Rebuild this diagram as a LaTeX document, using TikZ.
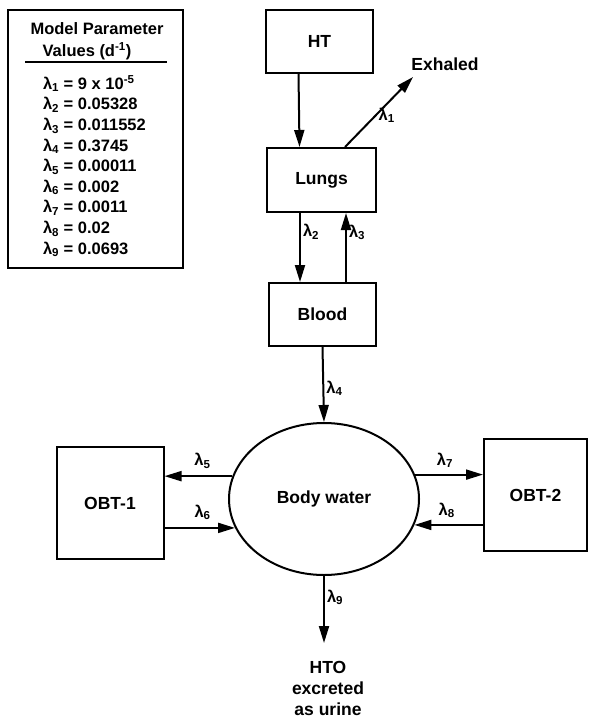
\documentclass[tikz,border=0pt]{standalone}
\usepackage{fontspec}
\setmainfont{Liberation Sans}
\usepackage{tikz}
\usetikzlibrary{positioning,arrows.meta,shapes.geometric}
\newcommand{\lam}[1]{λ\textsubscript{#1}}

\begin{document}
\begin{tikzpicture}[x=1pt,y=-1pt,line width=2pt,
    box/.style={draw,rectangle,inner sep=0pt,font=\fontsize{17.5}{20}\selectfont\bfseries},
    flow/.style={-{Triangle[length=17pt,width=10pt]}},
    rate/.style={font=\fontsize{16.5}{19}\selectfont\bfseries,inner sep=2pt},
    parline/.style={font=\fontsize{16.5}{19}\selectfont\bfseries,inner sep=0pt}]
  \useasboundingbox (0,0) rectangle (593,719);
  \node[draw,minimum width=175pt,minimum height=258pt] (param) at (95.5,139) {};
  \node[parline,anchor=base] (title1) at (97,35) {Model Parameter};
  \node[parline,anchor=base] (title2) at (87,57) {Values (d\textsuperscript{-1})};
  \draw (25,62) -- (167,62);
  \foreach \i/\v [count=\k] in {1/9 x 10\textsuperscript{-5},2/0.05328,3/0.011552,4/0.3745,
      5/0.00011,6/0.002,7/0.0011,8/0.02,9/0.0693}
    \node[parline,anchor=base west] (par\k) at (42,89.4+\k*20.6-20.6) {\lam{\i} = \v};
  \node[box,minimum width=107pt,minimum height=63pt] (HT) at (319.5,41.5) {HT};
  \node[box,minimum width=109pt,minimum height=64pt] (Lungs) at (321.5,180) {Lungs};
  \node[box,minimum width=107pt,minimum height=63pt] (Blood) at (322.5,314.5) {Blood};
  \node[box,ellipse,minimum width=190pt,minimum height=152pt] (water) at (324,499) {Body water};
  \node[box,minimum width=107pt,minimum height=112pt] (obtA) at (110,503) {OBT-1};
  \node[box,minimum width=103pt,minimum height=112pt] (obtB) at (535.5,495) {OBT-2};
  \coordinate (exh) at (413,77);
  \coordinate (urine) at (324,643);
  \node[font=\fontsize{17.5}{20}\selectfont\bfseries] (exhaled) at (445,64) {Exhaled};
  \node[font=\fontsize{17.5}{21}\selectfont\bfseries,align=center] (HTO) at (328,688) {HTO\\excreted\\as urine};
  \draw[flow] ([xshift=-21pt]HT.south) -- ([xshift=-22pt]Lungs.north);
  \draw[flow] ([xshift=23.5pt]Lungs.north) -- node[rate,pos=0.45,right] {\lam{1}} (exh);
  \draw[flow] ([xshift=-21.5pt]Lungs.south) -- node[rate,pos=0.27,right] {\lam{2}} ([xshift=-22.5pt]Blood.north);
  \draw[flow] ([xshift=23.5pt]Blood.north) -- node[rate,pos=0.72,right] {\lam{3}} ([xshift=24.5pt]Lungs.south);
  \draw[flow] (Blood.south) -- node[rate,pos=0.55,right] {\lam{4}} (water.north);
  \draw[flow] (water.166) -- node[rate,pos=0.44,above=5pt] {\lam{5}} (water.166 -| obtA.east);
  \draw[flow] (water.198 -| obtA.east) -- node[rate,pos=0.54,above=5pt] {\lam{6}} (water.198);
  \draw[flow] (water.15) -- node[rate,pos=0.44,above=4pt] {\lam{7}} (water.15 -| obtB.west);
  \draw[flow] (water.344 -| obtB.west) -- node[rate,pos=0.53,above=4pt] {\lam{8}} (water.344);
  \draw[flow] (water.south) -- node[rate,pos=0.32,right] {\lam{9}} (water.south |- urine);
\end{tikzpicture}
\end{document}
